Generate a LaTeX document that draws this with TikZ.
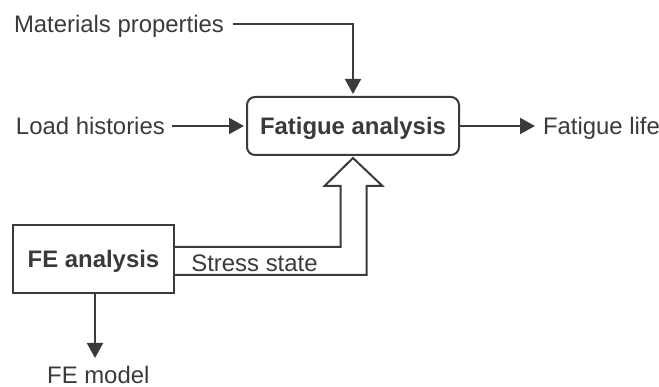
\documentclass[tikz,border=0pt]{standalone}
\usepackage{fontspec}
\setmainfont{Liberation Sans}
\usetikzlibrary{arrows.meta}
\definecolor{ink}{HTML}{3A3A3A}
\begin{document}
\begin{tikzpicture}[x=1pt,y=-1pt,line width=2pt,
  lbl/.style={font=\fontsize{23.9}{28}\selectfont,inner sep=0pt,text=ink,text height=17pt,text depth=0pt},
  boxb/.style={lbl,draw=ink,font=\fontsize{23.9}{28}\selectfont\bfseries},
  tipped/.style={draw=ink,-{Triangle[length=15pt,width=16pt]}}]
\useasboundingbox (0,0) rectangle (659,387);
% nodes
\node[boxb,rounded corners=8pt,minimum width=212pt,minimum height=58pt] (fat) at (353,126) {Fatigue analysis};
\node[boxb,minimum width=161pt,minimum height=67.5pt] (fe) at (93.5,259) {FE analysis};
\node[lbl,anchor=west] (mat) at (13,24) {Materials properties};
\node[lbl,anchor=west] (load) at (15,126) {Load histories};
\node[lbl,anchor=west] (life) at (542,126) {Fatigue life};
\node[lbl] (fem) at (98.3,375.5) {FE model};
\node[lbl] (stress) at (254.5,263) {Stress state};
% connectors
\draw[tipped,shorten >=2pt] ([xshift=8pt]mat.east) -| (fat.north);
\draw[tipped,shorten >=2pt] ([xshift=6pt]load.east) -- (fat.west);
\draw[tipped,shorten >=7pt] (fat.east) -- (life.west);
\draw[tipped,shorten >=8pt] ([xshift=1.5pt]fe.south) -- ([xshift=1.5pt]fe.south |- fem.north);
% hollow arrow
\coordinate (htip) at ([yshift=-2pt]fat.south);
\draw[draw=ink,line join=miter] (fe.east |- 0,247) -- (340.5,247) -- (340.5,186) -- (324.5,186) -- (htip)
  -- (382.5,186) -- (366.5,186) -- (366.5,275) -- (fe.east |- 0,275);
\end{tikzpicture}
\end{document}
